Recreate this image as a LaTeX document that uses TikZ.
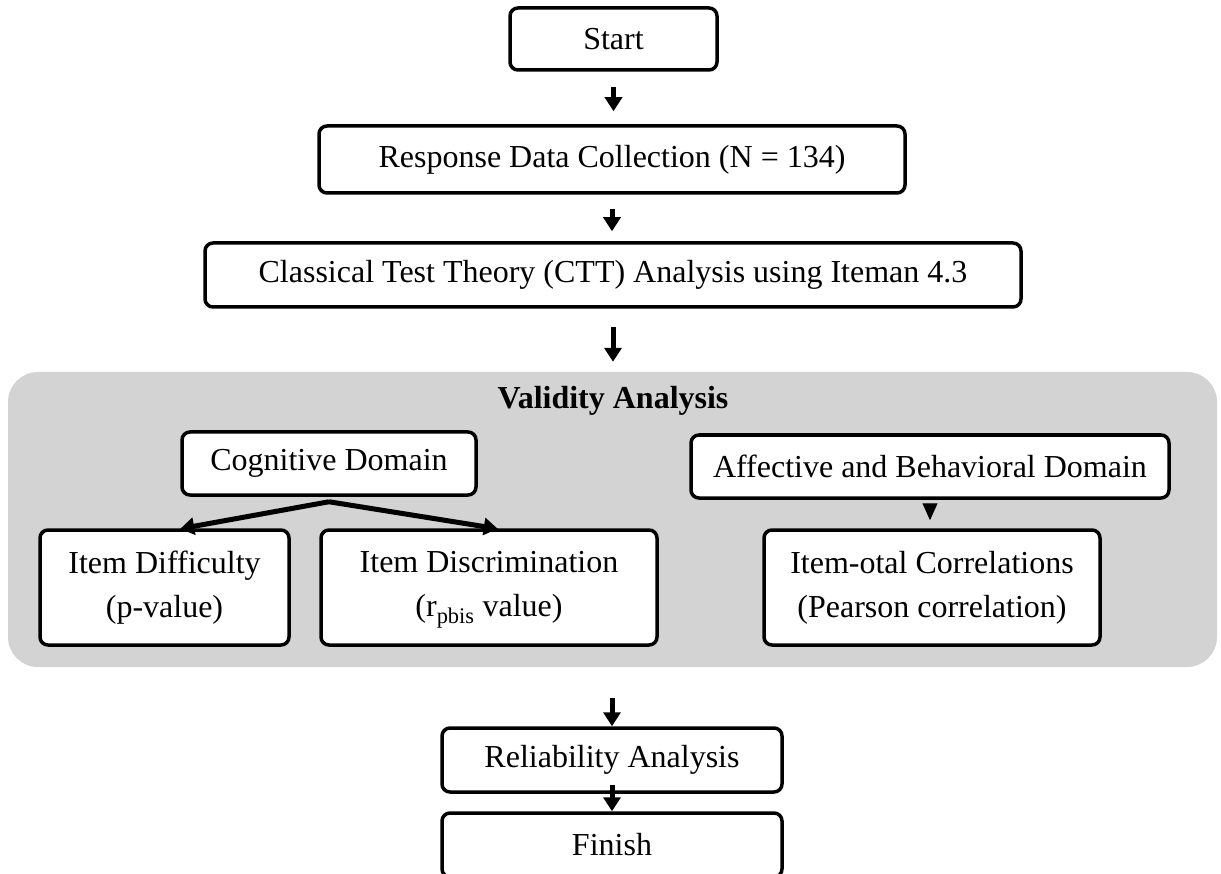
\documentclass[tikz,border=0pt]{standalone}
\usepackage{fontspec}
\setmainfont{Liberation Serif}
\usetikzlibrary{arrows.meta,calc}
\definecolor{panelgray}{RGB}{211,211,211}
\newcommand\mainfs{\fontsize{32pt}{44pt}\selectfont}
\tikzset{
  box/.style={draw, line width=3.5pt, rounded corners=8pt, fill=white, inner sep=0pt, align=center, font=\mainfs},
  arr/.style={line width=5pt, -{Triangle[width=17pt,length=14pt]}},
  thinarr/.style={line width=1pt, -{Triangle[width=15pt,length=17pt]}},
  panelbox/.style={fill=panelgray, rounded corners=30pt, inner sep=0pt},
}
\begin{document}
\begin{tikzpicture}[x=1pt,y=-1pt]
\useasboundingbox (0,0) rectangle (1221,874);
% panel
\node[panelbox, minimum width=1209pt, minimum height=295pt] (panel) at (612.5,519.5) {};
\node[font=\mainfs\bfseries] (title) at (613,401) {Validity Analysis};
% main chain
\node[box, minimum width=207pt, minimum height=62pt] (start) at (613.5,39) {Start};
\node[box, minimum width=586pt, minimum height=67pt] (resp) at (612,159.5) {Response Data Collection (N = 134)};
\node[box, minimum width=816pt, minimum height=64pt] (ctt) at (613,275) {Classical Test Theory (CTT) Analysis using Iteman 4.3};
% inside panel
\node[box, minimum width=294pt, minimum height=63pt] (cog) at (329,463.5) {Cognitive Domain};
\node[box, minimum width=478pt, minimum height=63pt] (aff) at (930,466.5) {Affective and Behavioral Domain};
\node[box, minimum width=249pt, minimum height=115pt] (diff) at (164.5,587.5) {Item Difficulty\\(p-value)};
\node[box, minimum width=336pt, minimum height=115pt] (disc) at (489,587.5) {Item Discrimination\\(\smash{r\textsubscript{pbis}} value)};
\node[box, minimum width=336pt, minimum height=115pt] (ito) at (932,587.5) {Item-otal Correlations\\(Pearson correlation)};
% bottom
\node[box, minimum width=340pt, minimum height=64pt] (rel) at (612,760) {Reliability Analysis};
\node[box, minimum width=340pt, minimum height=64pt] (fin) at (612,845) {Finish};
% connectors
\draw[arr, shorten <=15pt, shorten >=13pt] (start.south) -- (start.south |- resp.north);
\draw[arr, shorten <=14pt, shorten >=10pt] (resp.south) -- (resp.south |- ctt.north);
\draw[arr, shorten <=18pt, shorten >=10pt] (ctt.south) -- (ctt.south |- panel.north);
\draw[arr, shorten <=31pt] (rel.north |- panel.south) -- (rel.north);
\draw[arr, shorten <=-9pt] (rel.south) -- (fin.north);
\coordinate (apex) at ($(cog.south)+(0,5)$);
\coordinate (tl) at ($(cog.south west)+(0,32)$);
\coordinate (tr) at ($(cog.south east)+(20,32)$);
\draw[arr] (apex) -- (tl);
\draw[arr] (apex) -- (tr);
\draw[thinarr, shorten <=7pt, shorten >=8pt] (aff.south) -- (aff.south |- ito.north);
\end{tikzpicture}
\end{document}
